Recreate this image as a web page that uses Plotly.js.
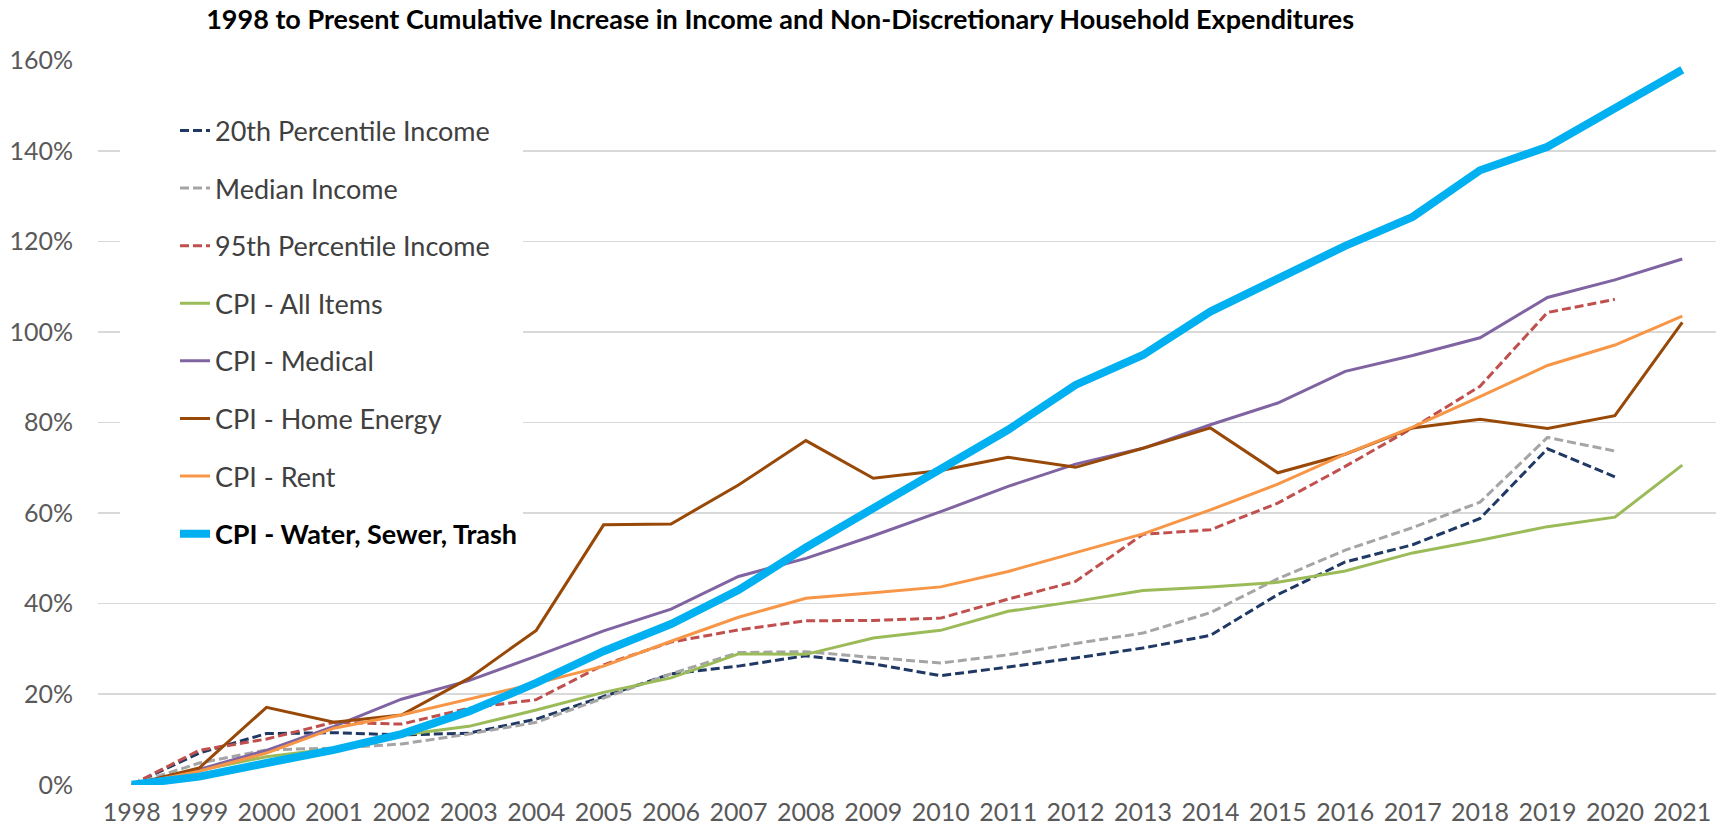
<!DOCTYPE html>
<html>
<head>
<meta charset="utf-8">
<script src="https://cdn.plot.ly/plotly-3.0.1.min.js"></script>
<style>html,body{margin:0;padding:0;background:#fff;}#chart{width:1726px;height:833px;}</style>
</head>
<body>
<div id="chart"></div>
<script>
const years = ['1998','1999','2000','2001','2002','2003','2004','2005','2006','2007','2008','2009','2010','2011','2012','2013','2014','2015','2016','2017','2018','2019','2020','2021'];

const income20th = [0, 7, 11.3, 11.5, 11, 11.4, 14.5, 19.5, 24.5, 26.2, 28.5, 26.7, 24.1, 26, 28, 30.2, 33, 42, 49.2, 53, 58.8, 74.2, 68];
const incomeMedian = [0, 4.8, 7.7, 8.1, 9, 11.2, 13.8, 19.2, 24.5, 29.2, 29.4, 28.1, 26.9, 28.7, 31.2, 33.5, 38, 45.5, 51.8, 56.8, 62.4, 76.7, 73.7];
const income95th = [0, 7.6, 10.1, 13.8, 13.4, 16.9, 18.8, 26.5, 31.5, 34.2, 36.2, 36.3, 36.8, 41, 44.9, 55.3, 56.3, 62.2, 70.3, 78.8, 88, 104.3, 107.2];
const cpiAll = [0, 3.2, 6.2, 8, 11, 12.9, 16.5, 20.4, 23.6, 28.9, 28.8, 32.4, 34.1, 38.3, 40.5, 42.9, 43.7, 44.7, 47.2, 51.2, 54, 57, 59.1, 70.6];
const cpiMedical = [0, 3.4, 7.6, 12.9, 18.9, 23, 28.4, 34, 38.8, 46, 50, 55, 60.3, 65.9, 70.8, 74.3, 79.5, 84.3, 91.3, 94.8, 98.7, 107.6, 111.5, 116.1];
const cpiEnergy = [0, 3.7, 17.1, 13.8, 15.4, 23.5, 34.1, 57.4, 57.6, 66.2, 76, 67.7, 69.4, 72.3, 70.1, 74.3, 78.8, 68.9, 73, 78.8, 80.7, 78.7, 81.5, 102.1];
const cpiRent = [0, 3, 7, 12.5, 15.4, 18.9, 22.4, 26.2, 31.7, 37, 41.2, 42.4, 43.7, 47.1, 51.3, 55.4, 60.7, 66.4, 73, 79, 85.7, 92.6, 97.1, 103.5];
const cpiWater = [0, 1.8, 4.8, 7.7, 11.2, 16.2, 22.5, 29.5, 35.5, 43, 52.4, 61.2, 70, 78.4, 88.3, 94.9, 104.5, 111.6, 119, 125.4, 135.7, 140.9, 149.3, 157.9];

const seriesNames = ['20th Percentile Income','Median Income','95th Percentile Income','CPI - All Items','CPI - Medical','CPI - Home Energy','CPI - Rent','CPI - Water, Sewer, Trash'];
const seriesValues = [income20th, incomeMedian, income95th, cpiAll, cpiMedical, cpiEnergy, cpiRent, cpiWater];
const seriesColors = ['#1F3864','#A5A5A5','#C0504D','#9BBB59','#8064A2','#984807','#F79646','#00B0F0'];
const seriesDash = ['9px,4px','9px,4px','9px,4px','solid','solid','solid','solid','solid'];
const seriesWidth = [3,3,3,3,3,3,3,8];

const traces = seriesNames.map((n,i)=>({
  type:'scatter', mode:'lines',
  x: years.slice(0, seriesValues[i].length),
  y: seriesValues[i],
  name: i===7 ? '<b><span style="color:#000000">'+n+'</span></b>' : n,
  legendgroup: 'g'+i,
  line:{color:seriesColors[i], width:seriesWidth[i], dash:seriesDash[i]},
  hoverinfo:'skip'
}));

const layout = {
  width:1726, height:833,
  margin:{l:98, r:10, t:60, b:48},
  paper_bgcolor:'#ffffff', plot_bgcolor:'#ffffff',
  font:{family:'Lato, "Liberation Sans", sans-serif', color:'#595959'},
  title:{text:'<b>1998 to Present Cumulative Increase in Income and Non-Discretionary Household Expenditures</b>',
    font:{family:'Lato, sans-serif', size:27, color:'#000000'},
    x:0.452, xanchor:'center', xref:'container', y:0.976, yref:'container', yanchor:'middle'},
  xaxis:{type:'category', range:[-0.5,23.5], showgrid:false, zeroline:false, showline:false, ticks:'',
    tickfont:{size:25, color:'#595959'}, ticklabelstandoff:10, fixedrange:true},
  yaxis:{range:[-0.05,160.05], dtick:20, tick0:0, ticksuffix:'%', showgrid:true, gridcolor:'#D9D9D9', gridwidth:1.5,
    zeroline:false, showline:false, ticks:'', tickfont:{size:25, color:'#595959'}, ticklabelstandoff:24, fixedrange:true},
  legend:{x:0.0136, xanchor:'left', y:0.936, yanchor:'top', bgcolor:'#ffffff', borderwidth:0,
    font:{family:'Lato, sans-serif', size:27, color:'#404040'}, tracegroupgap:19.5, indentation:55, itemwidth:30},
  showlegend:true
};

Plotly.newPlot('chart', traces, layout, {displayModeBar:false, staticPlot:true});
</script>
</body>
</html>
